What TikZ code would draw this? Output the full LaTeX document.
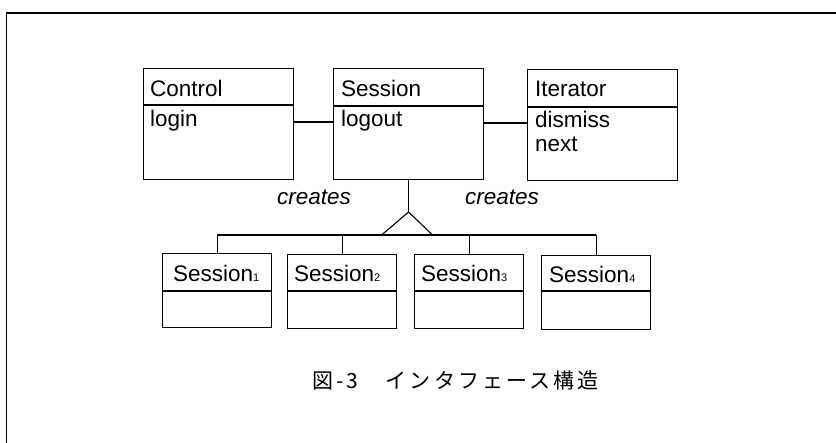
\documentclass[tikz,border=0pt]{standalone}
\usepackage{fontspec}
\setmainfont{Liberation Sans}
\newfontfamily\jpfont[LetterSpace=15]{Noto Sans CJK JP}
\usetikzlibrary{calc}

\tikzset{
  umlbox/.style={draw, line width=1.2pt, inner sep=0pt, anchor=north west, fill=white},
  bigbox/.style={umlbox, minimum width=150pt, minimum height=111pt},
  smallbox/.style={umlbox, minimum width=109pt, minimum height=74pt},
  divider/.style={line width=1.1pt},
  label/.style={inner sep=0pt, anchor=base west, font=\fontsize{22.5}{26}\selectfont},
  rel/.style={line width=1.1pt},
  frameline/.style={line width=1.4pt},
}
\newcommand{\idx}[1]{{\fontsize{11}{12}\selectfont #1}}

\begin{document}
\begin{tikzpicture}[x=1pt,y=-1pt]
  \useasboundingbox (0,0) rectangle (836,443);

  % page frame (top and left rules)
  \draw[frameline] (6.5,443) -- (6.5,13) -- (836,13);

  % upper classes
  \node[bigbox] (control)  at (143,68) {};
  \node[bigbox] (session)  at (333,68) {};
  \node[bigbox] (iterator) at (527,69) {};
  \foreach \b/\y in {control/105, session/106, iterator/107}
    \draw[divider] (\b.west |- 0,\y) -- (\b.east |- 0,\y);

  \node[label] (controlname) at (150,97) {Control};
  \node[label] (controlop)   at (150,127) {login};
  \node[label] (sessionname) at (341,97) {Session};
  \node[label] (sessionop)   at (341,127) {logout};
  \node[label] (itername)    at (535,97) {Iterator};
  \node[label] (iterop1)     at (535,128) {dismiss};
  \node[label] (iterop2)     at (535,152) {next};

  % associations
  \draw[rel] (control.east |- 0,122) -- (session.west |- 0,122);
  \draw[rel] (session.east |- 0,123) -- (iterator.west |- 0,123);

  % instance boxes
  \node[smallbox] (s1) at (162,253) {};
  \node[smallbox] (s2) at (287,254) {};
  \node[smallbox] (s3) at (414,254) {};
  \node[smallbox] (s4) at (541,255) {};
  \foreach \b in {s1,s2,s3,s4}
    \draw[divider] (\b.west |- 0,291) -- (\b.east |- 0,291);

  \node[label] (s1name) at (173,282) {Session\idx{1}};
  \node[label] (s2name) at (294,282) {Session\idx{2}};
  \node[label] (s3name) at (421,282) {Session\idx{3}};
  \node[label] (s4name) at (549,283) {Session\idx{4}};

  % fork from Session to its instances
  \coordinate (apex) at (session.south |- 0,212);
  \coordinate (forkl) at ($(apex)+(-27,23)$);
  \coordinate (forkr) at ($(apex)+(24,23)$);
  \draw[rel] (session.south) -- (apex);
  \draw[rel] (forkl) -- (apex) -- (forkr);
  \draw[rel] (s1.north |- forkl) -- (s4.north |- forkl);
  \foreach \b in {s1,s2,s3,s4}
    \draw[rel] (\b.north |- forkl) -- (\b.north);

  \node[label, font=\fontsize{22.5}{26}\selectfont\itshape] (createsl) at (277,205) {creates};
  \node[label, font=\fontsize{22.5}{26}\selectfont\itshape] (createsr) at (465,205) {creates};

  % caption
  \node[inner sep=0pt, anchor=base west, font=\jpfont\fontsize{21}{24}\selectfont] (caption)
    at (312,389) {図-3　インタフェース構造};
\end{tikzpicture}
\end{document}
